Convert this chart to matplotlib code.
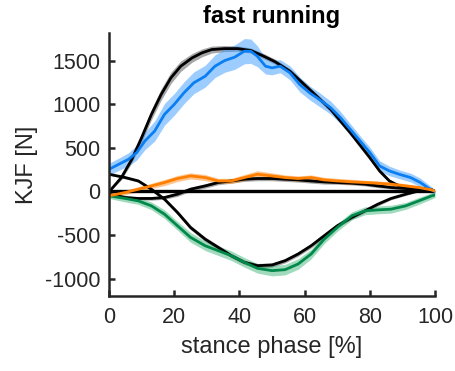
import numpy as np
import matplotlib
matplotlib.use("Agg")
import matplotlib.pyplot as plt

plt.rcParams['font.family'] = ['Liberation Sans', 'DejaVu Sans']
plt.rcParams['axes.unicode_minus'] = False

# ---- data ----
# upper curves: measured (blue) and model (black)
x_blue = [0, 3, 6, 8.5, 11, 14, 17, 20, 23, 26, 29.5, 32.5, 35.5, 38.5, 41.5,
          43.5, 45.5, 48, 50, 52.5, 55.5, 58.5, 61.5, 64.5, 68, 71, 74, 77,
          80, 83, 86, 89, 92.5, 95.5, 98.5, 100]
kjf_blue = [255, 313, 370, 447, 580, 694, 885, 1000, 1134, 1248, 1324, 1439,
            1504, 1542, 1611, 1611, 1553, 1439, 1420, 1439, 1363, 1229, 1134,
            1057, 962, 848, 714, 580, 447, 293, 236, 198, 160, 103, 26, 0]
sd_blue = [70, 70, 75, 85, 100, 115, 125, 125, 125, 125, 125, 130, 135, 140,
           145, 140, 120, 90, 80, 75, 80, 85, 80, 80, 75, 70, 65, 60, 60, 60,
           55, 50, 50, 50, 40, 20]

x_model_up = [0, 0.7, 3.8, 7, 10, 13, 16, 19, 22, 25.5, 28.5, 31.5, 35.5, 39.5,
              43.5, 47.5, 51, 55.5, 61.5, 68, 74, 80, 83, 86, 89, 92.5, 98.5, 100]
kjf_model_up = [0, 26, 160, 370, 618, 885, 1115, 1306, 1439, 1535, 1592, 1630,
                1641, 1641, 1619, 1553, 1489, 1381, 1172, 943, 676, 389, 236,
                121, 64, 46, 26, 0]
sd_model_up = [5, 10, 25, 40, 55, 60, 65, 65, 60, 50, 45, 40, 35, 30, 30, 30,
               30, 30, 30, 30, 30, 30, 25, 20, 15, 10, 5, 5]

# lower curves
x_lo = [0, 5, 9, 13, 17, 21, 25, 29.5, 33.5, 37.5, 41.5, 45.5, 50, 54, 58, 62,
        66, 70, 74.5, 78.5, 82.5, 86.5, 91, 95, 99, 100]
kjf_model_a = [198, 160, 121, 26, -88, -241, -413, -548, -642, -737, -813,
               -852, -844, -795, -718, -623, -508, -394, -298, -222, -145, -80,
               -31, 7, 18, 0]
kjf_model_b = [-31, -69, -80, -80, -69, -31, 26, 64, 103, 121, 141, 149, 149,
               141, 133, 121, 110, 103, 95, 84, 64, 46, 34, 26, 18, 0]
kjf_green = [-50, -80, -108, -165, -260, -394, -527, -623, -680, -737, -813,
             -882, -909, -898, -833, -718, -548, -413, -279, -222, -211, -203,
             -165, -108, -50, -40]
sd_green = [30, 40, 40, 45, 50, 50, 55, 55, 55, 55, 55, 55, 60, 60, 60, 55, 50,
            45, 45, 45, 45, 45, 40, 40, 35, 30]
kjf_orange = [-50, -11, 26, 64, 103, 149, 179, 160, 121, 121, 160, 198, 179,
              160, 149, 160, 133, 121, 110, 103, 95, 84, 64, 46, 18, 5]
sd_orange = [20, 25, 30, 30, 35, 35, 35, 35, 30, 30, 35, 40, 35, 30, 30, 30,
             30, 30, 30, 25, 25, 25, 25, 20, 15, 10]
sd_model_lo = [10, 15, 15, 20, 20, 25, 25, 25, 25, 25, 25, 25, 25, 25, 25, 25,
               25, 20, 20, 20, 20, 15, 15, 10, 10, 5]

c_blue = '#0a7ef2'
c_orange = '#ff7f00'
c_green = '#00894a'
c_dark = '#262626'

fig = plt.figure(figsize=(4.55, 3.71), dpi=100)
ax = fig.add_axes([0.2396, 0.2022, 0.7165, 0.7088])

def band(x, y, sd, color, alpha):
    x = np.array(x)
    y = np.array(y, dtype=float)
    sd = np.array(sd, dtype=float)
    ax.fill_between(x, y - sd, y + sd, color=color, alpha=alpha, lw=0)

# model curves (black with grey bands)
band(x_model_up, kjf_model_up, sd_model_up, 'k', 0.35)
band(x_lo, kjf_model_a, sd_model_lo, 'k', 0.35)
band(x_lo, kjf_model_b, sd_model_lo, 'k', 0.35)
ax.plot([0, 100], [0, 0], color='k', lw=2.4)
ax.plot(x_model_up, kjf_model_up, color='k', lw=2.0)
ax.plot(x_lo, kjf_model_a, color='k', lw=2.0)
ax.plot(x_lo, kjf_model_b, color='k', lw=2.0)

# measured curves
band(x_blue, kjf_blue, sd_blue, '#3d9cff', 0.5)
band(x_lo, kjf_green, sd_green, '#2fae6e', 0.45)
band(x_lo, kjf_orange, sd_orange, '#ff8f26', 0.5)
ax.plot(x_blue, kjf_blue, color=c_blue, lw=2.0)
ax.plot(x_lo, kjf_green, color=c_green, lw=2.0)
ax.plot(x_lo, kjf_orange, color=c_orange, lw=2.0)

ax.set_xlim(0, 100)
ax.set_ylim(-1200, 1820)
ax.set_xticks([0, 20, 40, 60, 80, 100])
ax.set_yticks([-1000, -500, 0, 500, 1000, 1500])

for s in ['top', 'right']:
    ax.spines[s].set_visible(False)
for s in ['left', 'bottom']:
    ax.spines[s].set_linewidth(1.8)
    ax.spines[s].set_color(c_dark)
ax.tick_params(direction='in', length=4, width=1.8, colors=c_dark,
               labelsize=15.5, pad=6)
ax.tick_params(axis='x', pad=8)

ax.set_title('fast running', fontsize=17, fontweight='bold', pad=7)
ax.set_xlabel('stance phase [%]', fontsize=17, color=c_dark, labelpad=6)
ax.set_ylabel('KJF [N]', fontsize=17, color=c_dark, labelpad=5)

fig.savefig('out.png', dpi=100)
